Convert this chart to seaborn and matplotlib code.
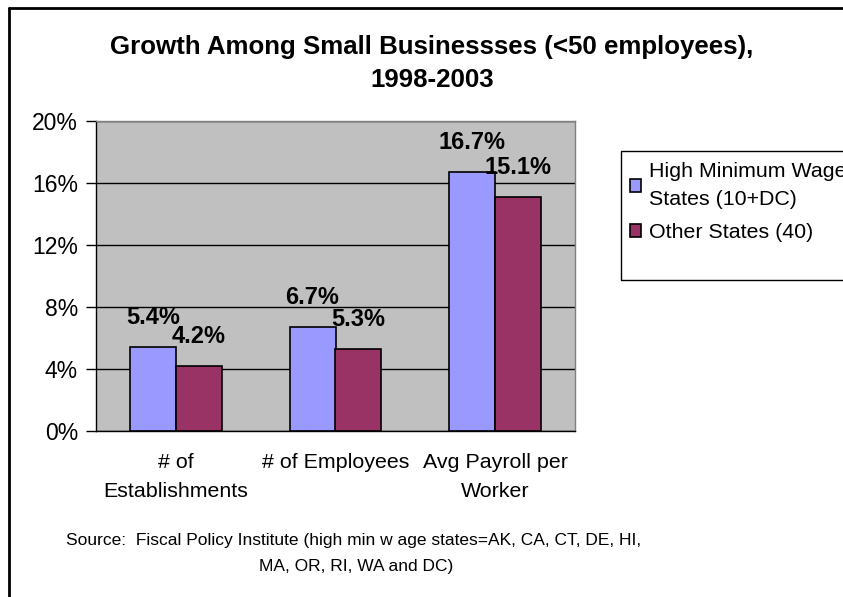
import matplotlib
matplotlib.use("Agg")
import matplotlib.pyplot as plt
from matplotlib.lines import Line2D
from matplotlib.patches import Rectangle
from matplotlib.ticker import FuncFormatter, FixedLocator
import seaborn as sns
import pandas as pd

# Growth rates (%) by measure and state group
categories = ["# of\nEstablishments", "# of Employees", "Avg Payroll per\nWorker"]
groups = ["High Minimum Wage\nStates (10+DC)", "Other States (40)"]
high_min_wage = [5.4, 6.7, 16.7]
other_states = [4.2, 5.3, 15.1]
y_ticks = [0, 4, 8, 12, 16, 20]

df = pd.DataFrame({
    "measure": categories * 2,
    "group": [groups[0]] * 3 + [groups[1]] * 3,
    "growth": high_min_wage + other_states,
})

sns.set_style("white")
plt.rcParams["font.family"] = ["Liberation Sans", "DejaVu Sans"]
for key in ("text.color", "xtick.color", "ytick.color", "axes.labelcolor"):
    plt.rcParams[key] = "black"

fig = plt.figure(figsize=(8.43, 5.97), dpi=100)
ax = fig.add_axes([96 / 843, 1 - 431 / 597, 479 / 843, 310 / 597])
ax.set_facecolor("#C0C0C0")

sns.barplot(
    data=df, x="measure", y="growth", hue="group", order=categories,
    hue_order=groups, palette=["#9999FF", "#993366"], width=0.575,
    edgecolor="black", linewidth=1.2, saturation=1, legend=False, ax=ax,
)

for container in ax.containers:
    ax.bar_label(container, labels=[f"{v:.1f}%" for v in container.datavalues],
                 padding=13, fontsize=17, fontweight="bold", color="black")

ax.set_ylim(0, 20)
ax.set_xlim(-0.5, 2.5)
ax.set_yticks(y_ticks)
ax.yaxis.set_major_formatter(FuncFormatter(lambda v, _: f"{v:.0f}%"))
ax.yaxis.grid(True, color="black", linewidth=1)
ax.set_axisbelow(True)
ax.set_xlabel("")
ax.set_ylabel("")

# category labels without ticks; tick marks at the group boundaries
ax.set_xticks(range(len(categories)))
ax.set_xticklabels(categories, linespacing=1.62)
ax.tick_params(axis="x", which="major", length=0, labelsize=15.4, pad=16)
ax.xaxis.set_minor_locator(FixedLocator([-0.5, 0.5, 1.5, 2.5]))
ax.tick_params(axis="x", which="minor", length=7, width=1, color="black", direction="out")
ax.tick_params(axis="y", length=7, width=1, color="black", direction="out",
               labelsize=16.5, pad=6, left=True)

for side in ("left", "bottom"):
    ax.spines[side].set_color("black")
    ax.spines[side].set_linewidth(1)
for side in ("top", "right"):
    ax.spines[side].set_color("#808080")
    ax.spines[side].set_linewidth(1)

# legend in its own box on the right
handles = [Rectangle((0, 0), 1, 1, facecolor=c, edgecolor="black", linewidth=1.2)
           for c in ["#9999FF", "#993366"]]
leg = fig.legend(handles, groups, loc="upper left", bbox_to_anchor=(621 / 843, 1 - 153 / 597),
                 frameon=False, fontsize=15.4, handlelength=0.55, handleheight=0.55,
                 handletextpad=0.35, labelspacing=0.65, borderaxespad=0)
for t in leg.get_texts():
    t.set_linespacing(1.62)
fig.patches.append(Rectangle((621 / 843, 1 - 280 / 597), 0.4, 129 / 597,
                             transform=fig.transFigure, fill=False,
                             edgecolor="black", linewidth=1))

# title and source note
fig.text(432 / 843, 1 - 47 / 597, "Growth Among Small Businessses (<50 employees),",
         ha="center", va="center", fontsize=18.6, fontweight="bold")
fig.text(432 / 843, 1 - 80 / 597, "1998-2003",
         ha="center", va="center", fontsize=18.6, fontweight="bold")
fig.text(354 / 843, 1 - 540 / 597,
         "Source:  Fiscal Policy Institute (high min w age states=AK, CA, CT, DE, HI,",
         ha="center", va="center", fontsize=12.5)
fig.text(356 / 843, 1 - 566 / 597, "MA, OR, RI, WA and DC)",
         ha="center", va="center", fontsize=12.5)

# outer chart border (left and top edges)
fig.lines.append(Line2D([9 / 843, 9 / 843], [0, 1 - 8 / 597], transform=fig.transFigure,
                        color="black", linewidth=2))
fig.lines.append(Line2D([9 / 843, 1], [1 - 8 / 597, 1 - 8 / 597], transform=fig.transFigure,
                        color="black", linewidth=2))

fig.savefig("out.png", dpi=100, facecolor="white")
